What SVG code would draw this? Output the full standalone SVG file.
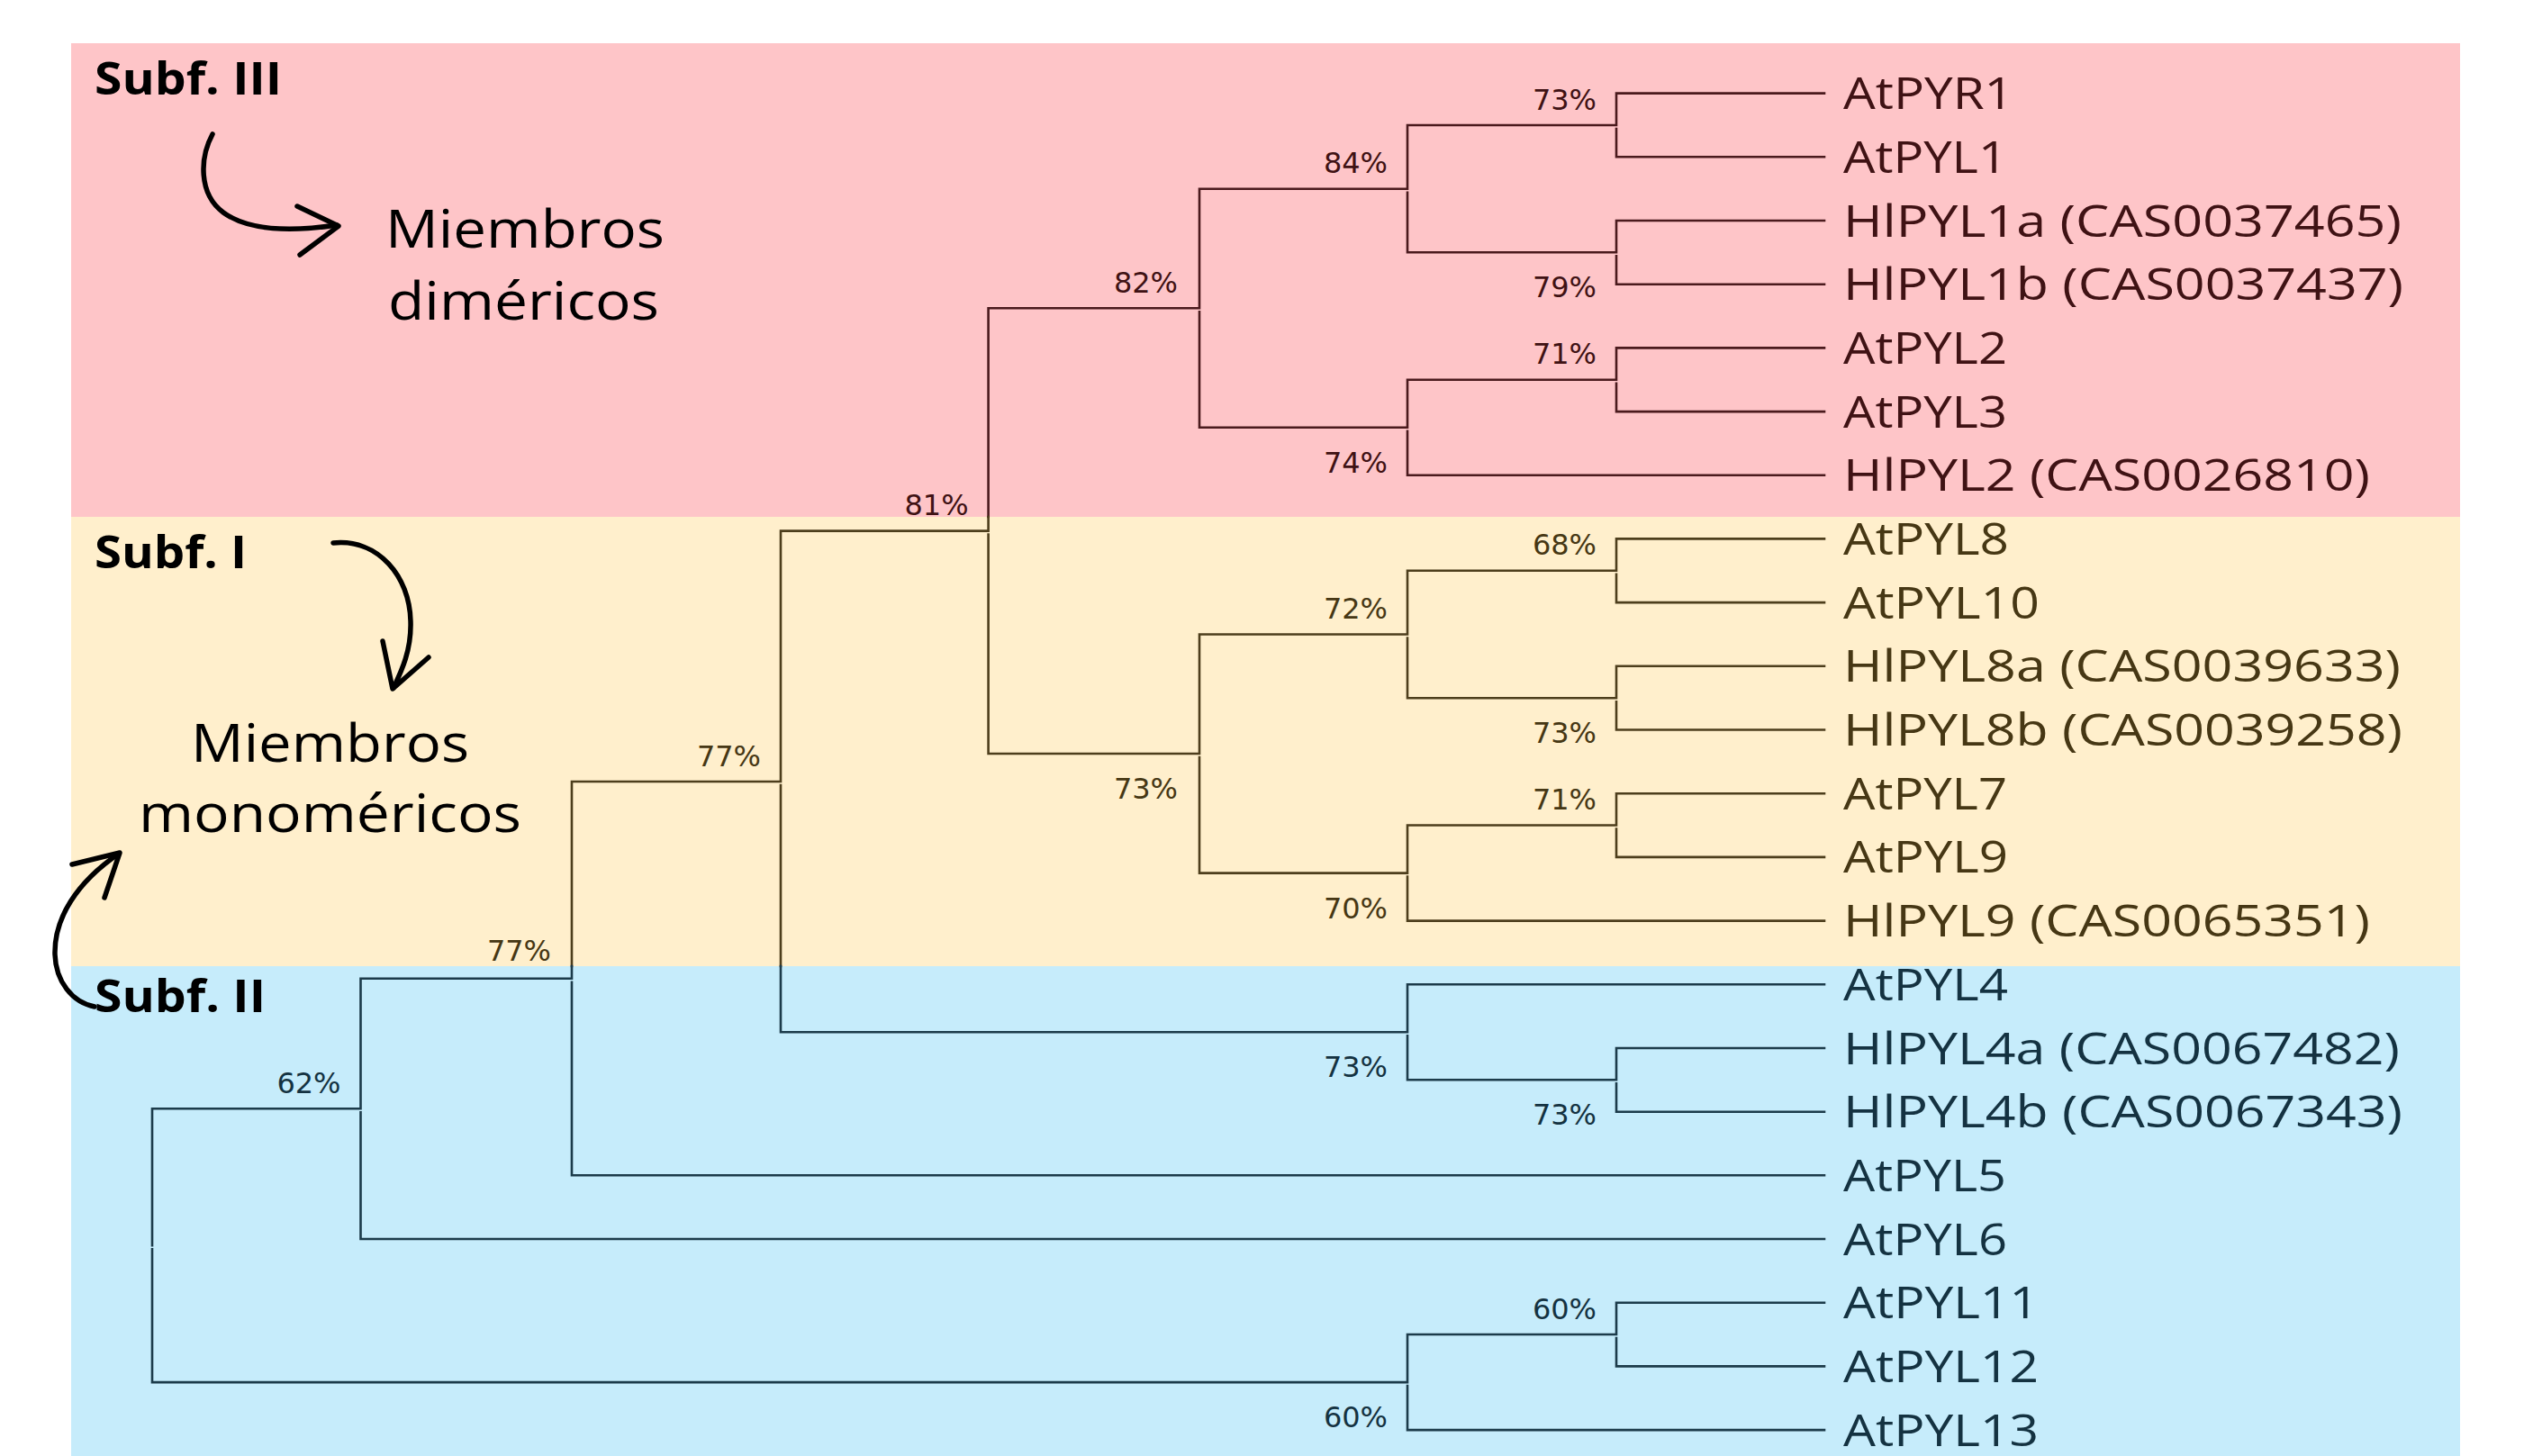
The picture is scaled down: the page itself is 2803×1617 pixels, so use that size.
<svg xmlns="http://www.w3.org/2000/svg" width="2803" height="1617" viewBox="0 0 2803 1617">
<style>
.bgp{fill:#FEC5C8}.bgy{fill:#FFEFCC}.bgb{fill:#C6ECFB}
.lbl{font-family:"Open Sans","Noto Sans",sans-serif;font-size:49px}
.pct{font-family:"DejaVu Sans",sans-serif;font-size:32px;text-anchor:end}
.sub{font-family:"Open Sans","Noto Sans",sans-serif;font-weight:700;font-size:50px;fill:#000}
.note{font-family:"Open Sans","Noto Sans",sans-serif;font-size:58px;fill:#000}
.tp{fill:#3f1214}.ty{fill:#463714}.tb{fill:#143241}
.ln{fill:none;stroke-width:2.6;stroke-linecap:square}
.lp{stroke:#4a1a1d}.ly{stroke:#4d3e1c}.lb{stroke:#1c3b4a}
.arr{fill:none;stroke:#000;stroke-width:5.5;stroke-linecap:round;stroke-linejoin:round}
</style>
<g id="background">
<rect class="bgp" x="79" y="48" width="2653" height="526"/>
<rect class="bgy" x="79" y="574" width="2653" height="499"/>
<rect class="bgb" x="79" y="1073" width="2653" height="544"/>
</g>
<g id="connectors">
<path class="ln lp" d="M1795,103.6H2026M1795,174.3H2026M1795,245H2026M1795,315.7H2026M1795,386.4H2026M1795,457.1H2026M1563,527.7H2026
M1795,103.6V139M1795,143V174.3M1563,139H1795
M1795,245V280.3M1795,284.3V315.7M1563,280.3H1795
M1563,139V209.7M1563,213.7V280.3M1332,209.7H1563
M1795,386.4V421.7M1795,425.7V457.1M1563,421.7H1795
M1563,421.7V474.7M1563,478.7V527.7M1332,474.7H1563
M1332,209.7V342.2M1332,346.2V474.7M1097.6,342.2H1332
M1097.6,342.2V574"/>
<path class="ln ly" d="M1097.6,574V589.6M1097.6,593.6V837M867,589.6H1097.6
M1795,598.4H2026M1795,669.1H2026M1795,739.8H2026M1795,810.5H2026M1795,881.2H2026M1795,951.9H2026M1563,1022.6H2026
M1795,598.4V633.8M1795,637.8V669.1M1563,633.8H1795
M1795,739.8V775.2M1795,779.2V810.5M1563,775.2H1795
M1563,633.8V704.5M1563,708.5V775.2M1332,704.5H1563
M1795,881.2V916.5M1795,920.5V951.9M1563,916.5H1795
M1563,916.5V969.6M1563,973.6V1022.6M1332,969.6H1563
M1332,704.5V837M1332,841V969.6M1097.6,837H1332
M867,589.6V868M867,872V1073M635,868H867
M635,868V1073"/>
<path class="ln lb" d="M867,1073V1146.3M635,1073V1086.7M635,1090.7V1305.3M400.5,1086.7H635
M1563,1093.3H2026M1795,1164H2026M1795,1234.7H2026M635,1305.3H2026M400.5,1376H2026M1795,1446.7H2026M1795,1517.4H2026M1563,1588.1H2026
M1795,1164V1199.3M1795,1203.3V1234.7M1563,1199.3H1795
M1563,1093.3V1146.3M1563,1150.3V1199.3M867,1146.3H1563
M400.5,1086.7V1231.3M400.5,1235.3V1376M169,1231.3H400.5
M1795,1446.7V1482M1795,1486V1517.4M1563,1482H1795
M1563,1482V1535.1M1563,1539.1V1588.1M169,1535.1H1563
M169,1231.3V1383.2M169,1387.2V1535.1"/>
</g>
<g id="leaves">
<g id="leaf-AtPYR1"><text class="lbl tp" x="2047" y="121.1" textLength="189" lengthAdjust="spacingAndGlyphs">AtPYR1</text></g>
<g id="leaf-AtPYL1"><text class="lbl tp" x="2047" y="191.8" textLength="182" lengthAdjust="spacingAndGlyphs">AtPYL1</text></g>
<g id="leaf-HlPYL1a"><text class="lbl tp" x="2047" y="262.5" textLength="620" lengthAdjust="spacingAndGlyphs">HlPYL1a (CAS0037465)</text></g>
<g id="leaf-HlPYL1b"><text class="lbl tp" x="2047" y="333.2" textLength="622" lengthAdjust="spacingAndGlyphs">HlPYL1b (CAS0037437)</text></g>
<g id="leaf-AtPYL2"><text class="lbl tp" x="2047" y="403.9" textLength="182" lengthAdjust="spacingAndGlyphs">AtPYL2</text></g>
<g id="leaf-AtPYL3"><text class="lbl tp" x="2047" y="474.6" textLength="182" lengthAdjust="spacingAndGlyphs">AtPYL3</text></g>
<g id="leaf-HlPYL2"><text class="lbl tp" x="2047" y="545.2" textLength="585" lengthAdjust="spacingAndGlyphs">HlPYL2 (CAS0026810)</text></g>
<g id="leaf-AtPYL8"><text class="lbl ty" x="2047" y="615.9" textLength="184" lengthAdjust="spacingAndGlyphs">AtPYL8</text></g>
<g id="leaf-AtPYL10"><text class="lbl ty" x="2047" y="686.6" textLength="218" lengthAdjust="spacingAndGlyphs">AtPYL10</text></g>
<g id="leaf-HlPYL8a"><text class="lbl ty" x="2047" y="757.3" textLength="619" lengthAdjust="spacingAndGlyphs">HlPYL8a (CAS0039633)</text></g>
<g id="leaf-HlPYL8b"><text class="lbl ty" x="2047" y="828" textLength="621" lengthAdjust="spacingAndGlyphs">HlPYL8b (CAS0039258)</text></g>
<g id="leaf-AtPYL7"><text class="lbl ty" x="2047" y="898.7" textLength="182" lengthAdjust="spacingAndGlyphs">AtPYL7</text></g>
<g id="leaf-AtPYL9"><text class="lbl ty" x="2047" y="969.4" textLength="183" lengthAdjust="spacingAndGlyphs">AtPYL9</text></g>
<g id="leaf-HlPYL9"><text class="lbl ty" x="2047" y="1040.1" textLength="585" lengthAdjust="spacingAndGlyphs">HlPYL9 (CAS0065351)</text></g>
<g id="leaf-AtPYL4"><text class="lbl tb" x="2047" y="1110.8" textLength="183" lengthAdjust="spacingAndGlyphs">AtPYL4</text></g>
<g id="leaf-HlPYL4a"><text class="lbl tb" x="2047" y="1181.5" textLength="618" lengthAdjust="spacingAndGlyphs">HlPYL4a (CAS0067482)</text></g>
<g id="leaf-HlPYL4b"><text class="lbl tb" x="2047" y="1252.2" textLength="621" lengthAdjust="spacingAndGlyphs">HlPYL4b (CAS0067343)</text></g>
<g id="leaf-AtPYL5"><text class="lbl tb" x="2047" y="1322.8" textLength="181" lengthAdjust="spacingAndGlyphs">AtPYL5</text></g>
<g id="leaf-AtPYL6"><text class="lbl tb" x="2047" y="1393.5" textLength="182" lengthAdjust="spacingAndGlyphs">AtPYL6</text></g>
<g id="leaf-AtPYL11"><text class="lbl tb" x="2047" y="1464.2" textLength="217" lengthAdjust="spacingAndGlyphs">AtPYL11</text></g>
<g id="leaf-AtPYL12"><text class="lbl tb" x="2047" y="1534.9" textLength="217" lengthAdjust="spacingAndGlyphs">AtPYL12</text></g>
<g id="leaf-AtPYL13"><text class="lbl tb" x="2047" y="1605.6" textLength="217" lengthAdjust="spacingAndGlyphs">AtPYL13</text></g>
</g>
<g id="internal-nodes">
<g id="node-A"><text class="pct tp" x="1773" y="121.5">73%</text></g>
<g id="node-B"><text class="pct tp" x="1773" y="330.3">79%</text></g>
<g id="node-C"><text class="pct tp" x="1541" y="192.2">84%</text></g>
<g id="node-D"><text class="pct tp" x="1773" y="404.2">71%</text></g>
<g id="node-E"><text class="pct tp" x="1541" y="524.7">74%</text></g>
<g id="node-F"><text class="pct tp" x="1308" y="324.7">82%</text></g>
<g id="node-G"><text class="pct ty" x="1773" y="616.3">68%</text></g>
<g id="node-H"><text class="pct ty" x="1773" y="825.2">73%</text></g>
<g id="node-I"><text class="pct ty" x="1541" y="687">72%</text></g>
<g id="node-J"><text class="pct ty" x="1773" y="899">71%</text></g>
<g id="node-K"><text class="pct ty" x="1541" y="1019.6">70%</text></g>
<g id="node-L"><text class="pct ty" x="1308" y="887">73%</text></g>
<g id="node-M"><text class="pct tp" x="1075.6" y="572.1">81%</text></g>
<g id="node-N"><text class="pct tb" x="1773" y="1249.3">73%</text></g>
<g id="node-O"><text class="pct tb" x="1541" y="1196.3">73%</text></g>
<g id="node-P"><text class="pct ty" x="845" y="850.5">77%</text></g>
<g id="node-Q"><text class="pct ty" x="612" y="1067">77%</text></g>
<g id="node-R"><text class="pct tb" x="378.5" y="1213.8">62%</text></g>
<g id="node-S"><text class="pct tb" x="1773" y="1464.5">60%</text></g>
<g id="node-T"><text class="pct tb" x="1541" y="1585.1">60%</text></g>
</g>
<g id="annotations">
<g id="subf-III"><text class="sub" x="105" y="105" textLength="208" lengthAdjust="spacingAndGlyphs">Subf. III</text></g>
<g id="subf-I"><text class="sub" x="105" y="631" textLength="169" lengthAdjust="spacingAndGlyphs">Subf. I</text></g>
<g id="subf-II"><text class="sub" x="105" y="1124" textLength="190" lengthAdjust="spacingAndGlyphs">Subf. II</text></g>
<g id="note-dimericos"><text class="note" x="428" y="275" textLength="310" lengthAdjust="spacingAndGlyphs">Miembros</text><text class="note" x="431" y="355" textLength="301" lengthAdjust="spacingAndGlyphs">diméricos</text></g>
<g id="note-monomericos"><text class="note" x="212" y="846" textLength="309" lengthAdjust="spacingAndGlyphs">Miembros</text><text class="note" x="154" y="924" textLength="425" lengthAdjust="spacingAndGlyphs">monoméricos</text></g>
<g id="arrow-1"><path class="arr" d="M236,149 C222,175 220,215 248,236 C274,255 320,258 374,250"/><path class="arr" d="M330,229 L376,251 L333,283"/></g>
<g id="arrow-2"><path class="arr" d="M370,603 C420,598 455,640 456,690 C457,722 446,745 437,764"/><path class="arr" d="M425,712 L436,765 L476,730"/></g>
<g id="arrow-3"><path class="arr" d="M105,1118 C80,1113 62,1090 61,1060 C60,1020 85,980 132,948"/><path class="arr" d="M80,960 L133,947 L116,997"/></g>
</g>
</svg>
